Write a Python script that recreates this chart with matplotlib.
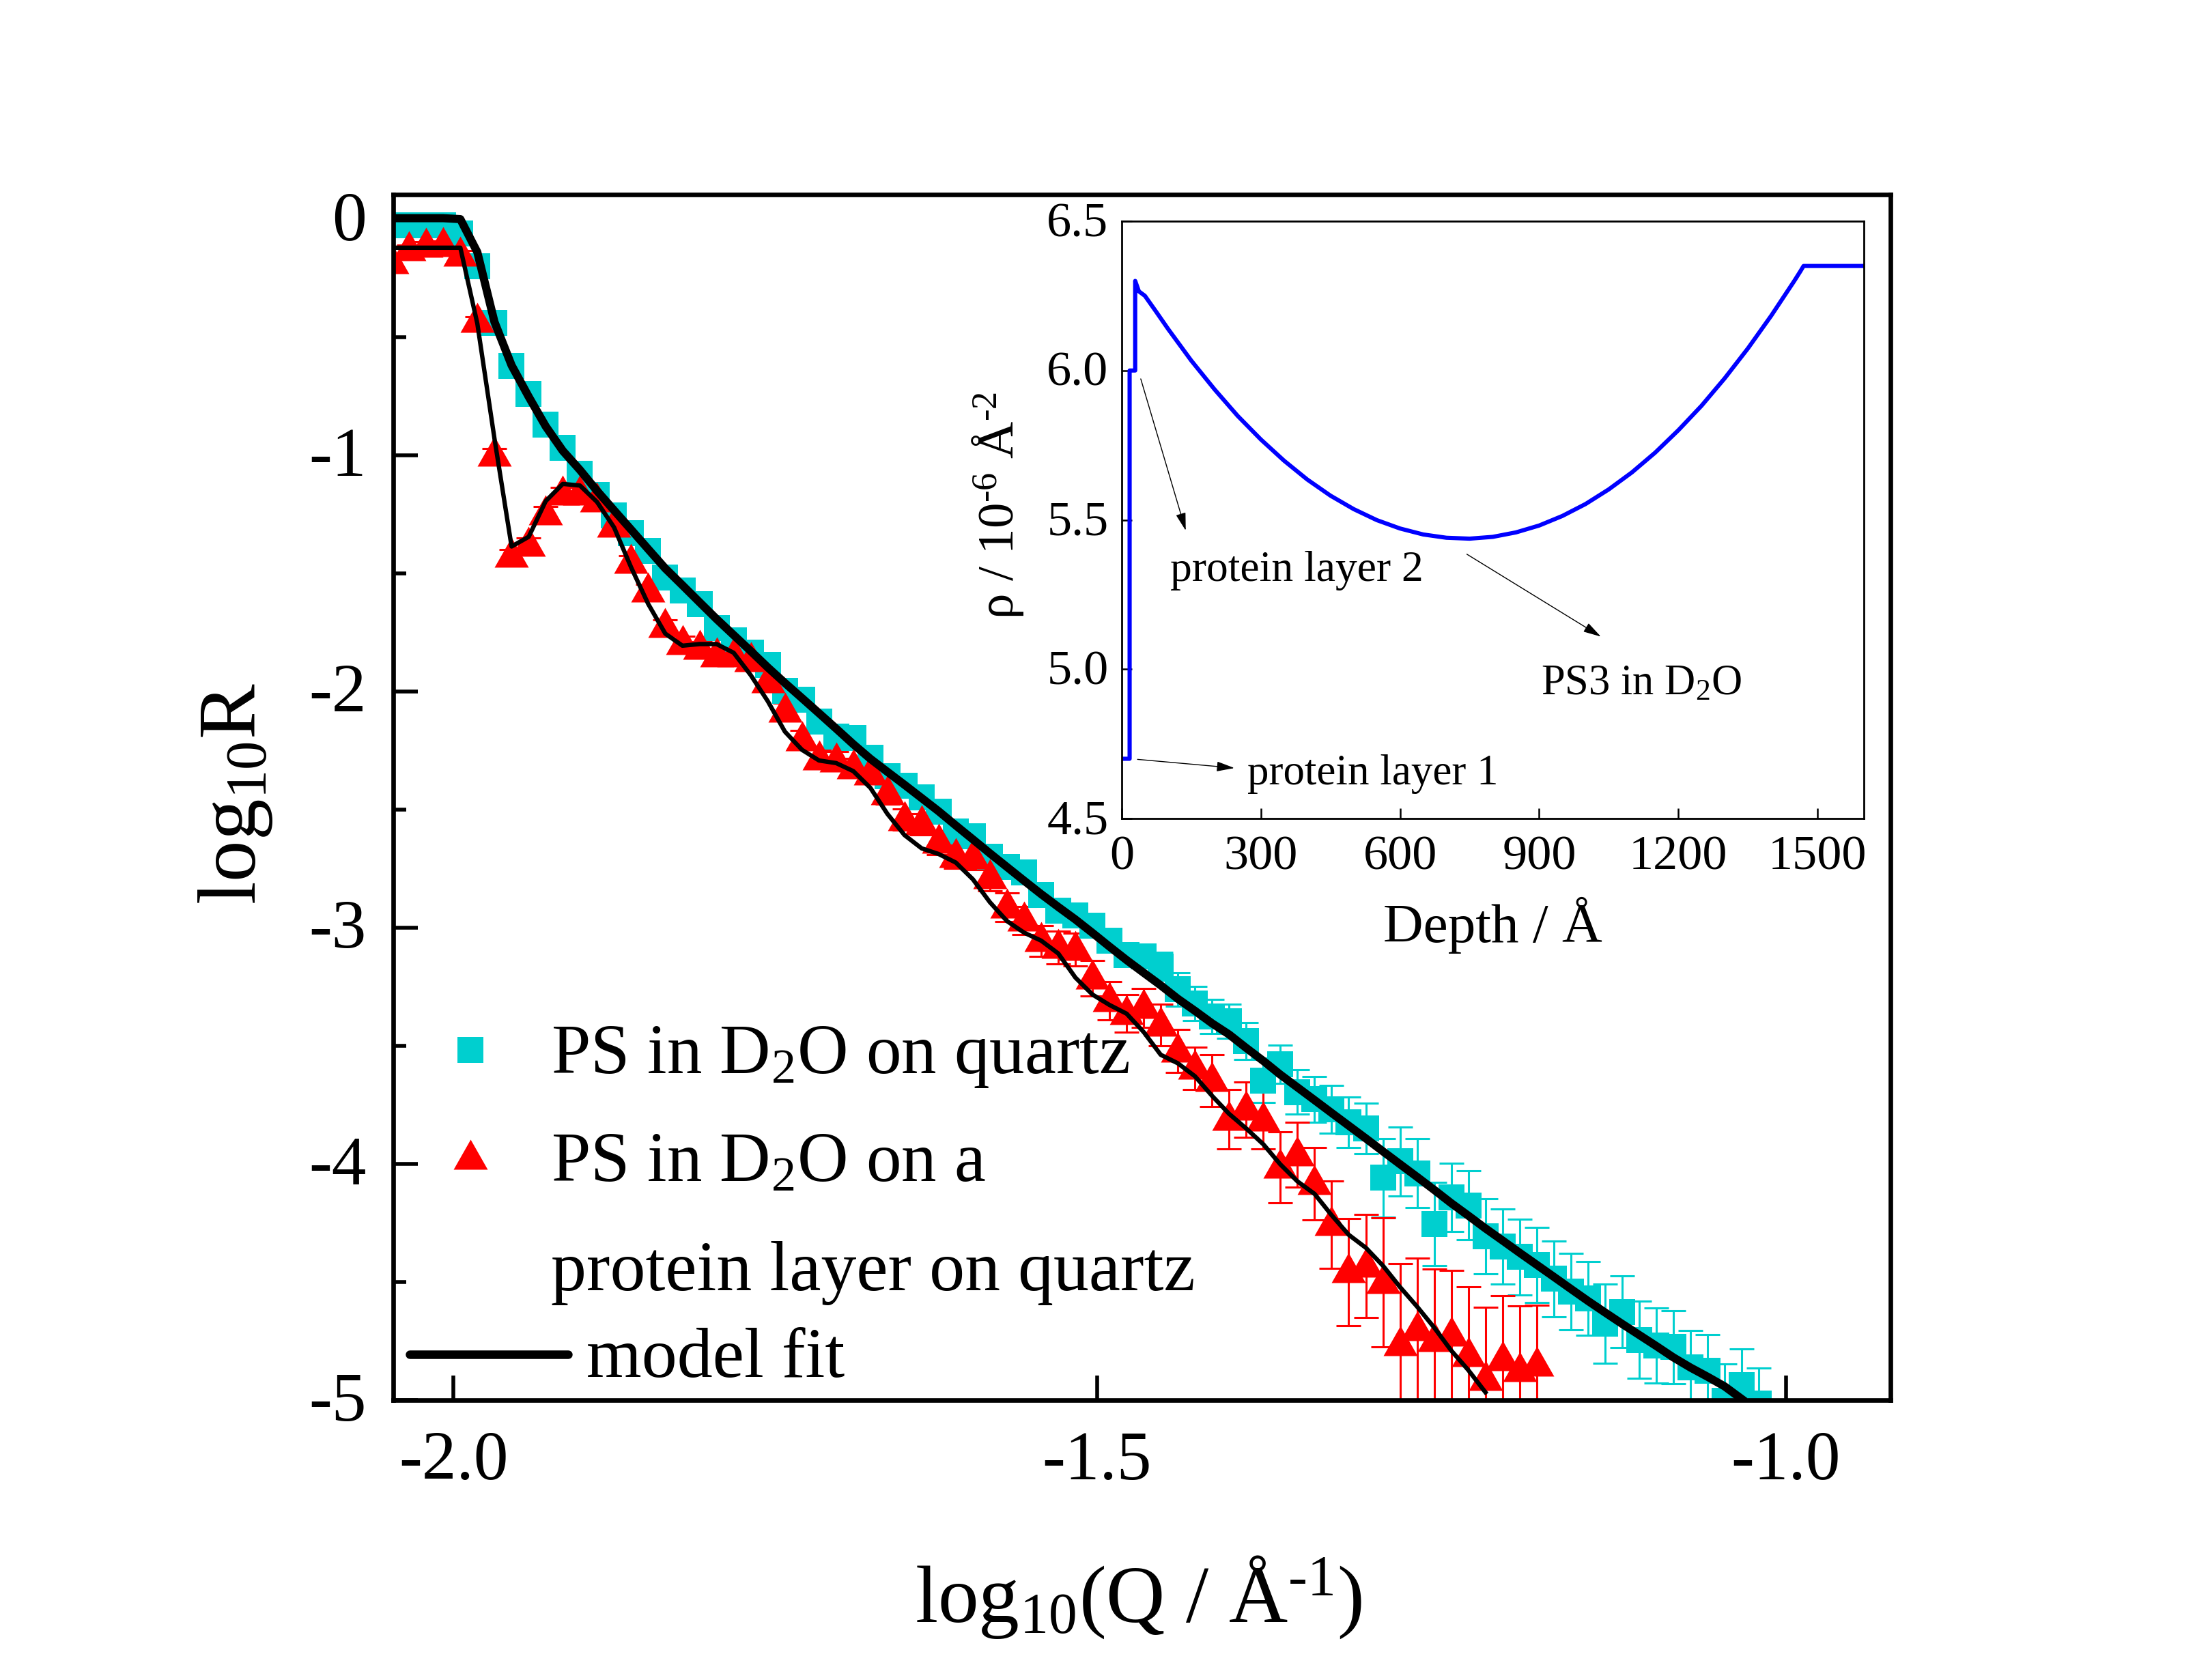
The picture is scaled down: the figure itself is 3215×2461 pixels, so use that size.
import matplotlib
matplotlib.use('Agg')
import matplotlib.pyplot as plt
from matplotlib.lines import Line2D
from matplotlib.path import Path
from matplotlib.transforms import ScaledTranslation

plt.rcParams['font.family'] = ['Liberation Serif', 'DejaVu Serif']
plt.rcParams['mathtext.fontset'] = 'custom'
plt.rcParams['mathtext.rm'] = 'Liberation Serif'
plt.rcParams['mathtext.it'] = 'Liberation Serif'
plt.rcParams['mathtext.default'] = 'regular'

W, H = 3216, 2461
DPI = 200

# log10(Q) of the measured points
log_q = [-2.0477, -2.0344, -2.0212, -2.0079, -1.9946, -1.9814, -1.9681, -1.9548, -1.9415, -1.9283,
         -1.9150, -1.9017, -1.8885, -1.8752, -1.8619, -1.8487, -1.8354, -1.8221, -1.8088, -1.7956,
         -1.7823, -1.7690, -1.7558, -1.7425, -1.7292, -1.7160, -1.7027, -1.6894, -1.6761, -1.6629,
         -1.6496, -1.6363, -1.6231, -1.6098, -1.5965, -1.5833, -1.5700, -1.5567, -1.5434, -1.5302,
         -1.5169, -1.5036, -1.4904, -1.4771, -1.4638, -1.4506, -1.4373, -1.4240, -1.4107, -1.3975,
         -1.3842, -1.3709, -1.3577, -1.3444, -1.3311, -1.3179, -1.3046, -1.2913, -1.2780, -1.2648,
         -1.2515, -1.2382, -1.2250, -1.2117, -1.1984, -1.1852, -1.1719, -1.1586, -1.1453, -1.1321,
         -1.1188, -1.1055, -1.0923, -1.0790, -1.0657, -1.0525, -1.0392, -1.0259, -1.0126, -0.9994,
         -0.9861]

# PS in D2O on quartz
quartz_r = [-0.027, -0.027, -0.027, -0.027, -0.062, -0.199, -0.438, -0.621, -0.739, -0.870,
            -0.967, -1.078, -1.168, -1.253, -1.329, -1.404, -1.517, -1.572, -1.629, -1.731,
            -1.783, -1.835, -1.887, -1.996, -2.035, -2.128, -2.190, -2.196, -2.279, -2.359,
            -2.399, -2.448, -2.508, -2.592, -2.612, -2.699, -2.742, -2.765, -2.861, -2.929,
            -2.947, -2.991, -3.054, -3.117, -3.121, -3.164, -3.261, -3.321, -3.375, -3.395,
            -3.480, -3.646, -3.578, -3.696, -3.726, -3.769, -3.824, -3.850, -4.058, -3.989,
            -4.040, -4.254, -4.141, -4.175, -4.305, -4.349, -4.394, -4.428, -4.486, -4.541,
            -4.570, -4.676, -4.626, -4.745, -4.770, -4.776, -4.862, -4.876, -5.002, -4.935,
            -5.015]
quartz_err = [0.01, 0.01, 0.01, 0.01, 0.01, 0.01, 0.01, 0.01, 0.01, 0.01,
              0.01, 0.01, 0.01, 0.01, 0.01, 0.01, 0.01, 0.01, 0.01, 0.01,
              0.012, 0.012, 0.012, 0.012, 0.012, 0.014, 0.014, 0.014, 0.016, 0.016,
              0.018, 0.018, 0.02, 0.02, 0.022, 0.025, 0.03, 0.03, 0.035, 0.035,
              0.04, 0.04, 0.045, 0.045, 0.05, 0.06, 0.07, 0.072, 0.072, 0.072,
              0.079, 0.094, 0.082, 0.094, 0.097, 0.101, 0.108, 0.108, 0.166, 0.146,
              0.146, 0.176, 0.145, 0.146, 0.159, 0.159, 0.160, 0.158, 0.160, 0.162,
              0.156, 0.167, 0.152, 0.163, 0.159, 0.155, 0.156, 0.153, 0.155, 0.152,
              0.150]
quartz_fit = [0.004, 0.004, 0.004, 0.004, 0.0, -0.14, -0.435, -0.619, -0.752, -0.877,
              -0.981, -1.062, -1.150, -1.233, -1.315, -1.397, -1.479, -1.55, -1.622, -1.693,
              -1.761, -1.829, -1.898, -1.964, -2.028, -2.092, -2.157, -2.223, -2.285, -2.340,
              -2.395, -2.451, -2.507, -2.567, -2.626, -2.685, -2.743, -2.801, -2.858, -2.912,
              -2.965, -3.022, -3.080, -3.137, -3.191, -3.244, -3.301, -3.352, -3.405, -3.452,
              -3.509, -3.564, -3.622, -3.676, -3.730, -3.784, -3.838, -3.892, -3.947, -4.001,
              -4.055, -4.110, -4.166, -4.219, -4.273, -4.324, -4.376, -4.427, -4.478, -4.529,
              -4.580, -4.629, -4.677, -4.724, -4.771, -4.819, -4.862, -4.901, -4.942, -4.995]

# PS in D2O on a protein layer on quartz
protein_r = [-0.184, -0.131, -0.116, -0.113, -0.154, -0.433, -1.001, -1.428, -1.381, -1.248,
             -1.166, -1.166, -1.193, -1.302, -1.455, -1.576, -1.726, -1.797, -1.819, -1.849,
             -1.849, -1.871, -1.959, -2.084, -2.205, -2.285, -2.294, -2.324, -2.349, -2.433,
             -2.543, -2.562, -2.640, -2.698, -2.704, -2.788, -2.914, -2.969, -3.055, -3.084,
             -3.092, -3.214, -3.309, -3.363, -3.339, -3.413, -3.522, -3.595, -3.647, -3.811,
             -3.770, -3.814, -4.015, -3.961, -4.084, -4.256, -4.458, -4.433, -4.502, -4.766,
             -4.703, -4.750, -4.724, -4.813, -4.914, -4.830, -4.875, -4.852]
protein_err = [0.02, 0.02, 0.02, 0.02, 0.02, 0.02, 0.03, 0.03, 0.03, 0.03,
               0.03, 0.03, 0.03, 0.03, 0.03, 0.03, 0.03, 0.03, 0.03, 0.03,
               0.03, 0.035, 0.035, 0.035, 0.04, 0.04, 0.04, 0.04, 0.04, 0.045,
               0.045, 0.045, 0.05, 0.05, 0.05, 0.055, 0.06, 0.06, 0.065, 0.07,
               0.07, 0.075, 0.08, 0.08, 0.083, 0.088, 0.091, 0.09, 0.11, 0.126,
               0.117, 0.122, 0.150, 0.138, 0.153, 0.185, 0.227, 0.218, 0.273, 0.344,
               0.305, 0.304, 0.274, 0.292, 0.308, 0.271, 0.274, 0.253]
protein_fit = [-0.121, -0.121, -0.121, -0.121, -0.121, -0.442, -0.929, -1.386, -1.345, -1.194,
               -1.121, -1.128, -1.197, -1.305, -1.475, -1.629, -1.755, -1.806, -1.799, -1.799,
               -1.836, -1.931, -2.041, -2.170, -2.247, -2.292, -2.303, -2.337, -2.408, -2.518,
               -2.608, -2.664, -2.688, -2.724, -2.795, -2.892, -2.972, -3.021, -3.055, -3.109,
               -3.211, -3.283, -3.327, -3.364, -3.442, -3.538, -3.574, -3.629, -3.712, -3.788,
               -3.850, -3.917, -4.002, -4.074, -4.127, -4.217, -4.300, -4.355, -4.431, -4.521,
               -4.604, -4.693, -4.790, -4.873, -4.967]

# SLD profile for the inset
depth = [0, 17, 17, 29, 29, 37, 50, 75, 100, 150, 200, 250, 300, 350, 400, 450, 500, 550, 600,
         650, 700, 750, 800, 850, 900, 950, 1000, 1050, 1100, 1150, 1200, 1250, 1300, 1350,
         1400, 1450, 1463, 1470, 1600]
sld = [4.70, 4.70, 6.00, 6.00, 6.30, 6.265, 6.25, 6.195, 6.139, 6.033, 5.937, 5.848, 5.769,
       5.698, 5.635, 5.581, 5.536, 5.499, 5.471, 5.451, 5.44, 5.437, 5.443, 5.458, 5.481,
       5.513, 5.553, 5.602, 5.659, 5.725, 5.80, 5.882, 5.974, 6.074, 6.183, 6.30, 6.332,
       6.35, 6.35]

TEAL = '#00CFCF'
RED = '#FF0000'
BLUE = '#0000FF'

def fx(px):
    return px / W

def fy(py):
    return 1 - py / H

def axes_box(left, top, right, bottom):
    return [fx(left), fy(bottom), (right - left) / W, (bottom - top) / H]

def nudge_up(labels, points):
    for label in labels:
        label.set_transform(label.get_transform() + ScaledTranslation(0, points / 72, fig.dpi_scale_trans))

# marker with its data point at the centroid like the original
triangle = Path([(-25, -16), (25, -16), (0, 28), (-25, -16)], closed=True)
TRI_MS = 56 / DPI * 72
SQ_MS = 38 / DPI * 72

fig = plt.figure(figsize=(W / DPI, H / DPI), dpi=DPI)
ax = fig.add_axes(axes_box(576, 285, 2769, 2051))

err_kw = dict(linestyle='none', capsize=6.5, elinewidth=1.1, capthick=1.1, markeredgewidth=0)
cont = ax.errorbar(log_q, quartz_r, yerr=quartz_err, marker='s', ms=SQ_MS, color=TEAL, ecolor=TEAL, **err_kw)
for cap in cont[1]:
    cap.set_markeredgewidth(1.1)
cont = ax.errorbar(log_q[:len(protein_r)], protein_r, yerr=protein_err, marker=triangle, ms=TRI_MS,
                   color=RED, ecolor=RED, **err_kw)
for cap in cont[1]:
    cap.set_markeredgewidth(1.1)
ax.plot(log_q[:len(quartz_fit)], quartz_fit, color='black', lw=4.3, zorder=5)
ax.plot(log_q[:len(protein_fit)], protein_fit, color='black', lw=2.3, zorder=5)

ax.set_xlim(-2.0467, -0.8838)
ax.set_ylim(-5, 0.104)
ax.set_yticks([0, -1, -2, -3, -4, -5])
ax.set_yticklabels(['0', '-1', '-2', '-3', '-4', '-5'])
ax.set_yticks([-0.5, -1.5, -2.5, -3.5, -4.5], minor=True)
ax.set_xticks([-2.0, -1.5, -0.965])
ax.set_xticklabels(['-2.0', '-1.5', '-1.0'])
ax.tick_params(axis='both', which='major', direction='in', length=13, width=2.0, labelsize=36.5)
ax.tick_params(axis='y', which='minor', direction='in', length=7, width=2.0)
ax.tick_params(axis='x', pad=16.5)
ax.tick_params(axis='y', pad=14)
for sp in ax.spines.values():
    sp.set_linewidth(2.4)
nudge_up(ax.get_yticklabels(), 2)

fig.text(fx(1668), fy(2376), r'log$_{10}$(Q / Å$^{\text{-1}}$)', fontsize=43, ha='center', va='baseline')
fig.text(fx(345), fy(1162), r'log$_{10}$R', fontsize=43.5, ha='center', va='center', rotation=90)

# legend drawn by hand, the rows are spaced unevenly
fig.add_artist(Line2D([fx(689)], [fy(1538)], marker='s', ms=SQ_MS, color=TEAL, mew=0, transform=fig.transFigure))
fig.add_artist(Line2D([fx(689)], [fy(1697)], marker=triangle, ms=TRI_MS, color=RED, mew=0, transform=fig.transFigure))
fig.add_artist(Line2D([fx(600), fx(832)], [fy(1984), fy(1984)], color='black', lw=4.5, transform=fig.transFigure,
                      solid_capstyle='round'))
fig.text(fx(807), fy(1572), r'PS in D$_2$O on quartz', fontsize=37.2, va='baseline')
fig.text(fx(807), fy(1731), r'PS in D$_2$O on a', fontsize=37.2, va='baseline')
fig.text(fx(807), fy(1890), 'protein layer on quartz', fontsize=37.4, va='baseline')
fig.text(fx(859), fy(2017), 'model fit', fontsize=37.4, va='baseline')

# inset
inset = fig.add_axes(axes_box(1643, 324, 2730, 1199))
inset.plot(depth, sld, color=BLUE, lw=2.2)
inset.set_xlim(0, 1600)
inset.set_ylim(4.5, 6.5)
inset.set_xticks([0, 300, 600, 900, 1200, 1500])
inset.set_yticks([4.5, 5.0, 5.5, 6.0, 6.5])
inset.set_yticklabels(['4.5', '5.0', '5.5', '6.0', '6.5'])
inset.tick_params(direction='in', length=5.4, width=0.9, labelsize=26)
inset.tick_params(axis='x', pad=9)
inset.tick_params(axis='y', pad=7)
for sp in inset.spines.values():
    sp.set_linewidth(1.0)
nudge_up(inset.get_yticklabels(), 1)

arrow_kw = dict(arrowstyle='-|>,head_length=0.5,head_width=0.14', color='black', lw=0.5,
                shrinkA=0, shrinkB=0, mutation_scale=16)
inset.annotate('', xy=(243, 4.669), xytext=(34, 4.698), arrowprops=arrow_kw)
inset.annotate('', xy=(138, 5.464), xytext=(41, 5.972), arrowprops=arrow_kw)
inset.annotate('', xy=(1033, 5.109), xytext=(744, 5.385), arrowprops=arrow_kw)
inset.text(105, 5.296, 'protein layer 2', fontsize=22.9, va='baseline')
inset.text(271, 4.614, 'protein layer 1', fontsize=22.7, va='baseline')
inset.text(904, 4.916, r'PS3 in D$_2$O', fontsize=22.5, va='baseline')

fig.text(fx(2186), fy(1380), 'Depth / Å', fontsize=29.3, ha='center', va='baseline')
fig.text(fx(1462), fy(740), r'ρ / 10$^{\text{-6}}$ Å$^{\text{-2}}$', fontsize=27, ha='center', va='center', rotation=90)

fig.savefig('out.png', dpi=DPI)
